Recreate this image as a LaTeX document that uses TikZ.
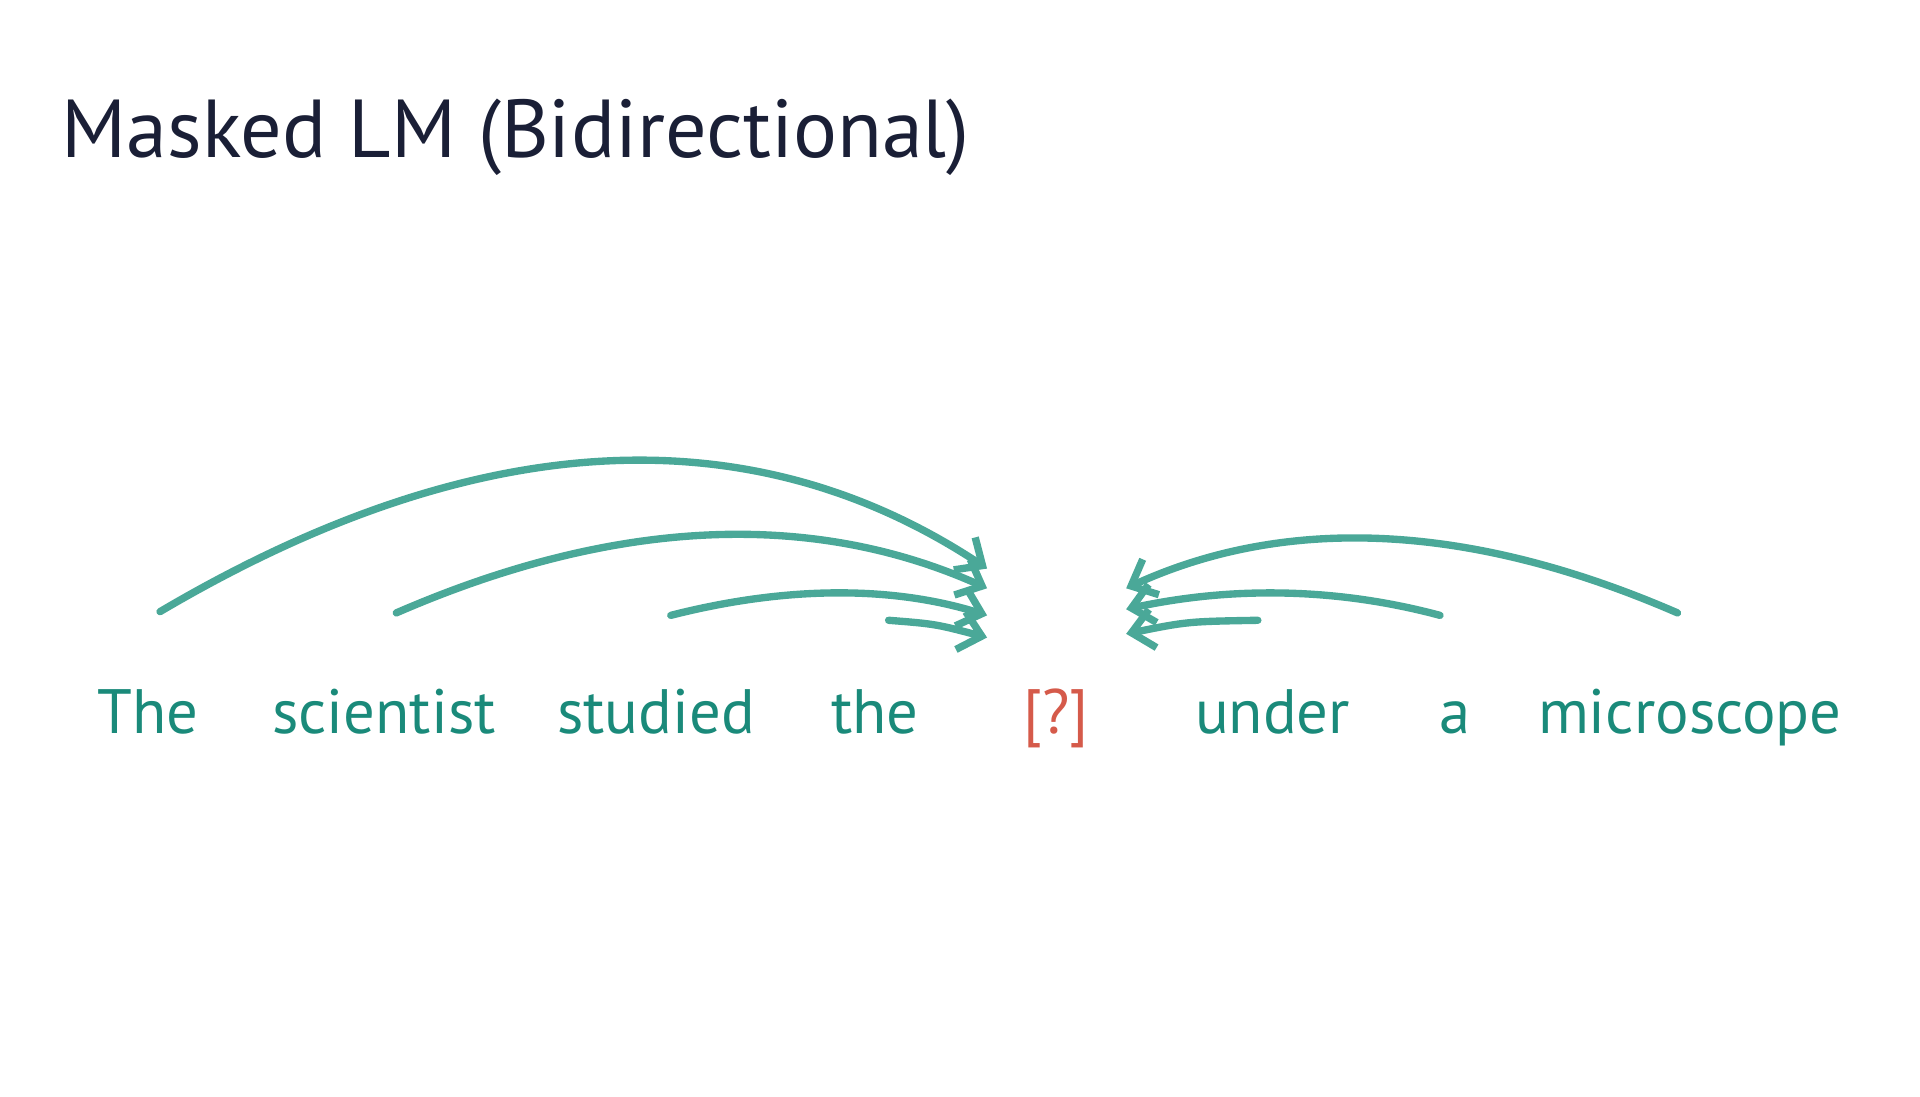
\documentclass[tikz,border=0pt]{standalone}
\usepackage{fontspec}
\setmainfont{PT Sans}
\usetikzlibrary{arrows.meta}
\definecolor{arc}{HTML}{4AA898}
\definecolor{word}{HTML}{1A8A7A}
\definecolor{mask}{HTML}{D55A4A}
\definecolor{ttl}{HTML}{1A1F36}
\begin{document}
\begin{tikzpicture}[x=0.02cm,y=0.02cm,
  w/.style={font=\fontsize{29}{34}\selectfont,text=word,anchor=base,inner sep=0pt},
  a/.style={draw=arc,line width=3.4pt,line cap=round,line join=round,-{Straight Barb[length=10pt,width=18pt,line width=3.4pt]}}]
\useasboundingbox (0,0) rectangle (1560,891);
\node[anchor=base west,inner sep=0pt,text=ttl,font=\fontsize{38}{44}\selectfont] (title) at (50,763) {Masked LM (Bidirectional)};
\node[w] (w1) at (120,295) {The};
\node[w] (w2) at (312,295) {scientist};
\node[w] (w3) at (533,295) {studied};
\node[w] (w4) at (711,295) {the};
\node[w,text=mask] (w5) at (858,295) {[?]};
\node[w] (w6) at (1034,295) {under};
\node[w] (w7) at (1182,295) {a};
\node[w] (w8) at (1373,295) {microscope};
\coordinate (s1) at (130,394); \coordinate (t1) at (802,429);
\coordinate (s2) at (322,393); \coordinate (t2) at (802,413);
\coordinate (s3) at (545,391); \coordinate (t3) at (802,391);
\coordinate (s4) at (722,387); \coordinate (t4) at (802,373);
\coordinate (s6) at (1022,387); \coordinate (t6) at (915,376);
\coordinate (s7) at (1170,391); \coordinate (t7) at (915,396);
\coordinate (s8) at (1363,393); \coordinate (t8) at (915,413);
\draw[a] (s1) .. controls (386,545) and (610,556) .. (t1);
\draw[a] (s2) .. controls (499,470) and (659,477) .. (t2);
\draw[a] (s3) .. controls (639,415) and (725,415) .. (t3);
\draw[a] (s4) .. controls (760,384) .. (t4);
\draw[a] (s8) .. controls (1195,466) and (1046,473) .. (t8);
\draw[a] (s7) .. controls (1088,413) and (1003,415) .. (t7);
\draw[a] (s6) .. controls (965,386) .. (t6);
\end{tikzpicture}
\end{document}
